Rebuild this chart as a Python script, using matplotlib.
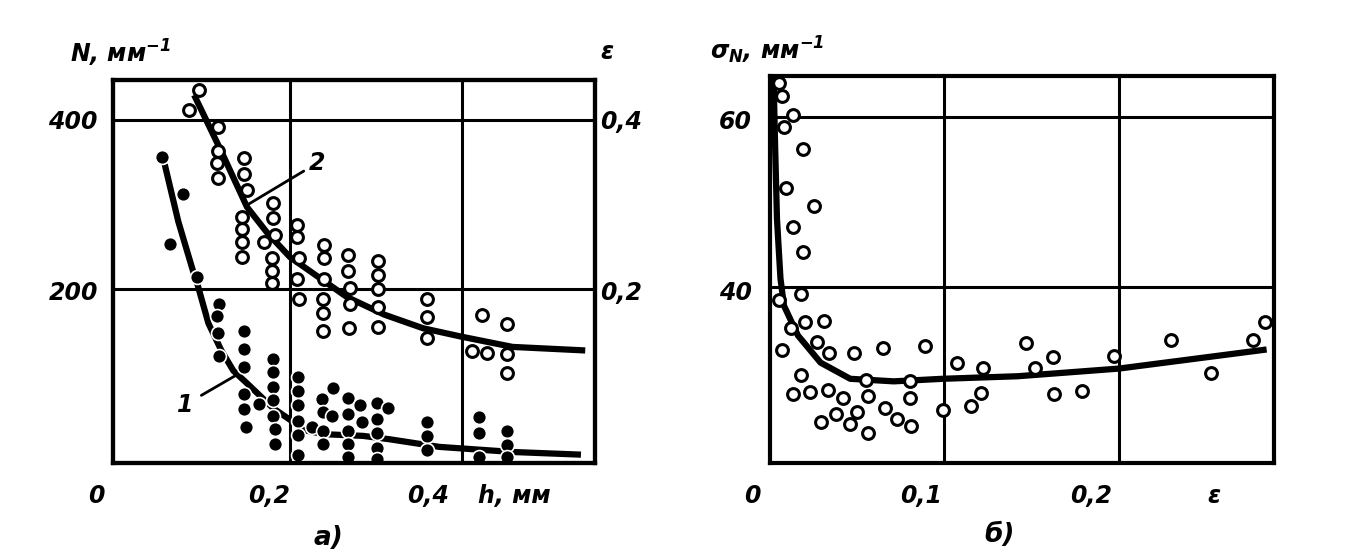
import matplotlib.pyplot as plt

plt.rcParams['font.family'] = ['DejaVu Sans']
plt.rcParams['mathtext.fontset'] = 'custom'
plt.rcParams['mathtext.it'] = 'DejaVu Sans:italic:bold'
plt.rcParams['mathtext.rm'] = 'DejaVu Sans:italic:bold'
plt.rcParams['mathtext.default'] = 'it'

# --- panel a): N (filled, left axis) and eps (open, right axis) vs h, mm
h_filled = [0.051, 0.076, 0.060, 0.092, 0.117, 0.115, 0.116, 0.117,
            0.147, 0.147, 0.147, 0.147, 0.147, 0.149, 0.164,
            0.180, 0.180, 0.180, 0.180, 0.180, 0.183, 0.183,
            0.209, 0.209, 0.209, 0.209, 0.209, 0.209, 0.226,
            0.237, 0.238, 0.238, 0.238, 0.250, 0.249,
            0.267, 0.281, 0.267, 0.284, 0.267, 0.267, 0.267,
            0.301, 0.314, 0.301, 0.301, 0.301, 0.301,
            0.360, 0.360, 0.360, 0.420, 0.420, 0.420,
            0.453, 0.453, 0.453]
n_filled = [356, 313, 254, 214, 183, 168, 148, 121,
            151, 130, 108, 77, 59, 38, 65,
            118, 102, 85, 69, 51, 35, 17,
            96, 80, 63, 45, 28, 4, 37,
            71, 55, 33, 18, 84, 51,
            72, 63, 53, 43, 33, 18, 2,
            66, 60, 47, 30, 13, 0,
            43, 27, 10, 49, 30, 2,
            33, 16, 2]

h_open = [0.094, 0.083, 0.116, 0.116, 0.115, 0.116, 0.147, 0.147, 0.150,
          0.144, 0.144, 0.144, 0.144, 0.180, 0.180, 0.170, 0.183,
          0.179, 0.179, 0.179, 0.208, 0.208, 0.210, 0.208, 0.210,
          0.240, 0.240, 0.240, 0.238, 0.238, 0.238,
          0.267, 0.267, 0.270, 0.270, 0.269,
          0.302, 0.302, 0.303, 0.303, 0.302,
          0.360, 0.360, 0.359, 0.423, 0.453, 0.412, 0.429, 0.453, 0.453]
eps_open = [0.435, 0.412, 0.392, 0.363, 0.349, 0.331, 0.355, 0.336, 0.317,
            0.285, 0.271, 0.256, 0.238, 0.302, 0.284, 0.256, 0.264,
            0.237, 0.222, 0.208, 0.276, 0.262, 0.237, 0.212, 0.189,
            0.252, 0.237, 0.212, 0.189, 0.172, 0.151,
            0.240, 0.222, 0.201, 0.183, 0.154,
            0.233, 0.217, 0.200, 0.179, 0.155,
            0.188, 0.167, 0.142, 0.170, 0.159, 0.127, 0.125, 0.124, 0.101]

curve1_h = [0.055, 0.070, 0.087, 0.092, 0.105, 0.120, 0.134, 0.150, 0.180,
            0.200, 0.215, 0.240, 0.285, 0.316, 0.374, 0.459, 0.535]
curve1_n = [344, 280, 222, 207, 160, 128, 104, 89, 60,
            46, 34, 29, 27, 23, 14, 8, 5]

curve2_h = [0.090, 0.119, 0.150, 0.174, 0.200, 0.266, 0.310, 0.355,
            0.400, 0.459, 0.540]
curve2_eps = [0.426, 0.365, 0.297, 0.266, 0.238, 0.191, 0.170, 0.154,
              0.144, 0.132, 0.128]

# --- panel б): sigma_N vs eps
e_pts = [0.005, 0.007, 0.013, 0.008, 0.019, 0.009, 0.025, 0.013, 0.019,
         0.018, 0.005, 0.020, 0.031, 0.012, 0.007, 0.027, 0.034, 0.048,
         0.065, 0.089, 0.107, 0.122, 0.018, 0.055, 0.080, 0.013, 0.023,
         0.033, 0.042, 0.056, 0.080, 0.121, 0.115, 0.099, 0.066, 0.073,
         0.081, 0.050, 0.038, 0.029, 0.046, 0.056,
         0.147, 0.162, 0.152, 0.197, 0.163, 0.179, 0.230, 0.253, 0.277, 0.284]
s_pts = [64.0, 62.4, 60.2, 58.8, 56.2, 51.6, 49.5, 47.1, 44.1,
         39.2, 38.5, 35.9, 36.0, 35.2, 32.6, 33.5, 32.2, 32.2,
         32.8, 33.1, 31.1, 30.5, 29.6, 29.0, 28.9, 27.4, 27.6,
         27.9, 27.0, 27.2, 27.0, 27.5, 26.0, 25.5, 25.8, 24.5,
         23.7, 25.3, 25.1, 24.1, 23.9, 22.8,
         33.4, 31.8, 30.5, 31.9, 27.4, 27.8, 33.8, 29.9, 33.8, 35.9]

curve3_e = [0.002, 0.003, 0.004, 0.006, 0.008, 0.016, 0.029, 0.046, 0.071,
            0.099, 0.142, 0.200, 0.283]
curve3_s = [65.0, 56.0, 48.0, 41.0, 37.8, 34.3, 31.1, 29.2, 28.9,
            29.2, 29.5, 30.4, 32.6]

txt = dict(style='italic', weight='bold', fontsize=17, color='black')


def px(x, y):
    return x / 1360, 1 - y / 560


fig = plt.figure(figsize=(13.6, 5.6), dpi=100)

# left panel
ax1 = fig.add_axes([113 / 1360, 97 / 560, 482 / 1360, 383 / 560])
ax1.set_xlim(-0.006, 0.555)
ax1.set_ylim(-5, 447)
ax1.set_xticks([0.2, 0.4])
ax1.set_yticks([200, 400])
ax1.grid(True, color='black', lw=2.2)
ax1.tick_params(length=0, labelbottom=False, labelleft=False)
ax1e = ax1.twinx()
ax1e.set_ylim(-0.005, 0.447)
ax1e.set_yticks([])
for a in (ax1, ax1e):
    for s in a.spines.values():
        s.set_linewidth(3)

ax1.plot(curve1_h, curve1_n, color='black', lw=4.5, zorder=2)
ax1.plot(h_filled, n_filled, 'o', color='black', ms=10, mec='white',
         mew=1.2, zorder=3)
ax1e.plot(curve2_h, curve2_eps, color='black', lw=4.5, zorder=2)
ax1e.plot(h_open, eps_open, 'o', mfc='white', mec='black', ms=8.5,
          mew=2.2, zorder=3)

ax1.annotate('2', xy=(0.151, 300), xytext=(0.222, 349),
             arrowprops=dict(arrowstyle='-', color='black', lw=2,
                             shrinkA=2, shrinkB=0),
             ha='left', va='center', **txt)
ax1.annotate('1', xy=(0.138, 99), xytext=(0.088, 64),
             arrowprops=dict(arrowstyle='-', color='black', lw=2,
                             shrinkA=4, shrinkB=0),
             ha='right', va='center', **txt)

# right panel
ax2 = fig.add_axes([770 / 1360, 97 / 560, 504 / 1360, 387 / 560])
ax2.set_xlim(0.0, 0.289)
ax2.set_ylim(19.3, 64.8)
ax2.set_xticks([0.1, 0.2])
ax2.set_yticks([40, 60])
ax2.grid(True, color='black', lw=2.2)
ax2.tick_params(length=0, labelbottom=False, labelleft=False)
for s in ax2.spines.values():
    s.set_linewidth(3)
ax2.plot(curve3_e, curve3_s, color='black', lw=4.5, zorder=2)
ax2.plot(e_pts, s_pts, 'o', mfc='white', mec='black', ms=8.5, mew=2.2,
         zorder=3, clip_on=False)

# labels, left panel
fig.text(*px(70, 53), 'N, мм$^{-1}$', ha='left', va='center', **txt)
fig.text(*px(98, 122), '400', ha='right', va='center', **txt)
fig.text(*px(98, 293), '200', ha='right', va='center', **txt)
fig.text(*px(600, 122), '0,4', ha='left', va='center', **txt)
fig.text(*px(600, 293), '0,2', ha='left', va='center', **txt)
fig.text(*px(607, 52), 'ε', ha='center', va='center', **txt)
fig.text(*px(96, 496), '0', ha='center', va='center', **txt)
fig.text(*px(269, 496), '0,2', ha='center', va='center', **txt)
fig.text(*px(428, 496), '0,4', ha='center', va='center', **txt)
fig.text(*px(514, 496), 'h, мм', ha='center', va='center', **txt)
fig.text(*px(328, 538), 'а)', ha='center', va='center', fontsize=19,
         style='italic', weight='bold')

# labels, right panel
fig.text(*px(710, 50), r'$\sigma_N$, мм$^{-1}$', ha='left', va='center', **txt)
fig.text(*px(752, 122), '60', ha='right', va='center', **txt)
fig.text(*px(752, 293), '40', ha='right', va='center', **txt)
fig.text(*px(752, 496), '0', ha='center', va='center', **txt)
fig.text(*px(921, 496), '0,1', ha='center', va='center', **txt)
fig.text(*px(1091, 496), '0,2', ha='center', va='center', **txt)
fig.text(*px(1214, 496), 'ε', ha='center', va='center', **txt)
fig.text(*px(1000, 535), 'б)', ha='center', va='center', fontsize=19,
         style='italic', weight='bold')

plt.savefig('out.png', dpi=100)
